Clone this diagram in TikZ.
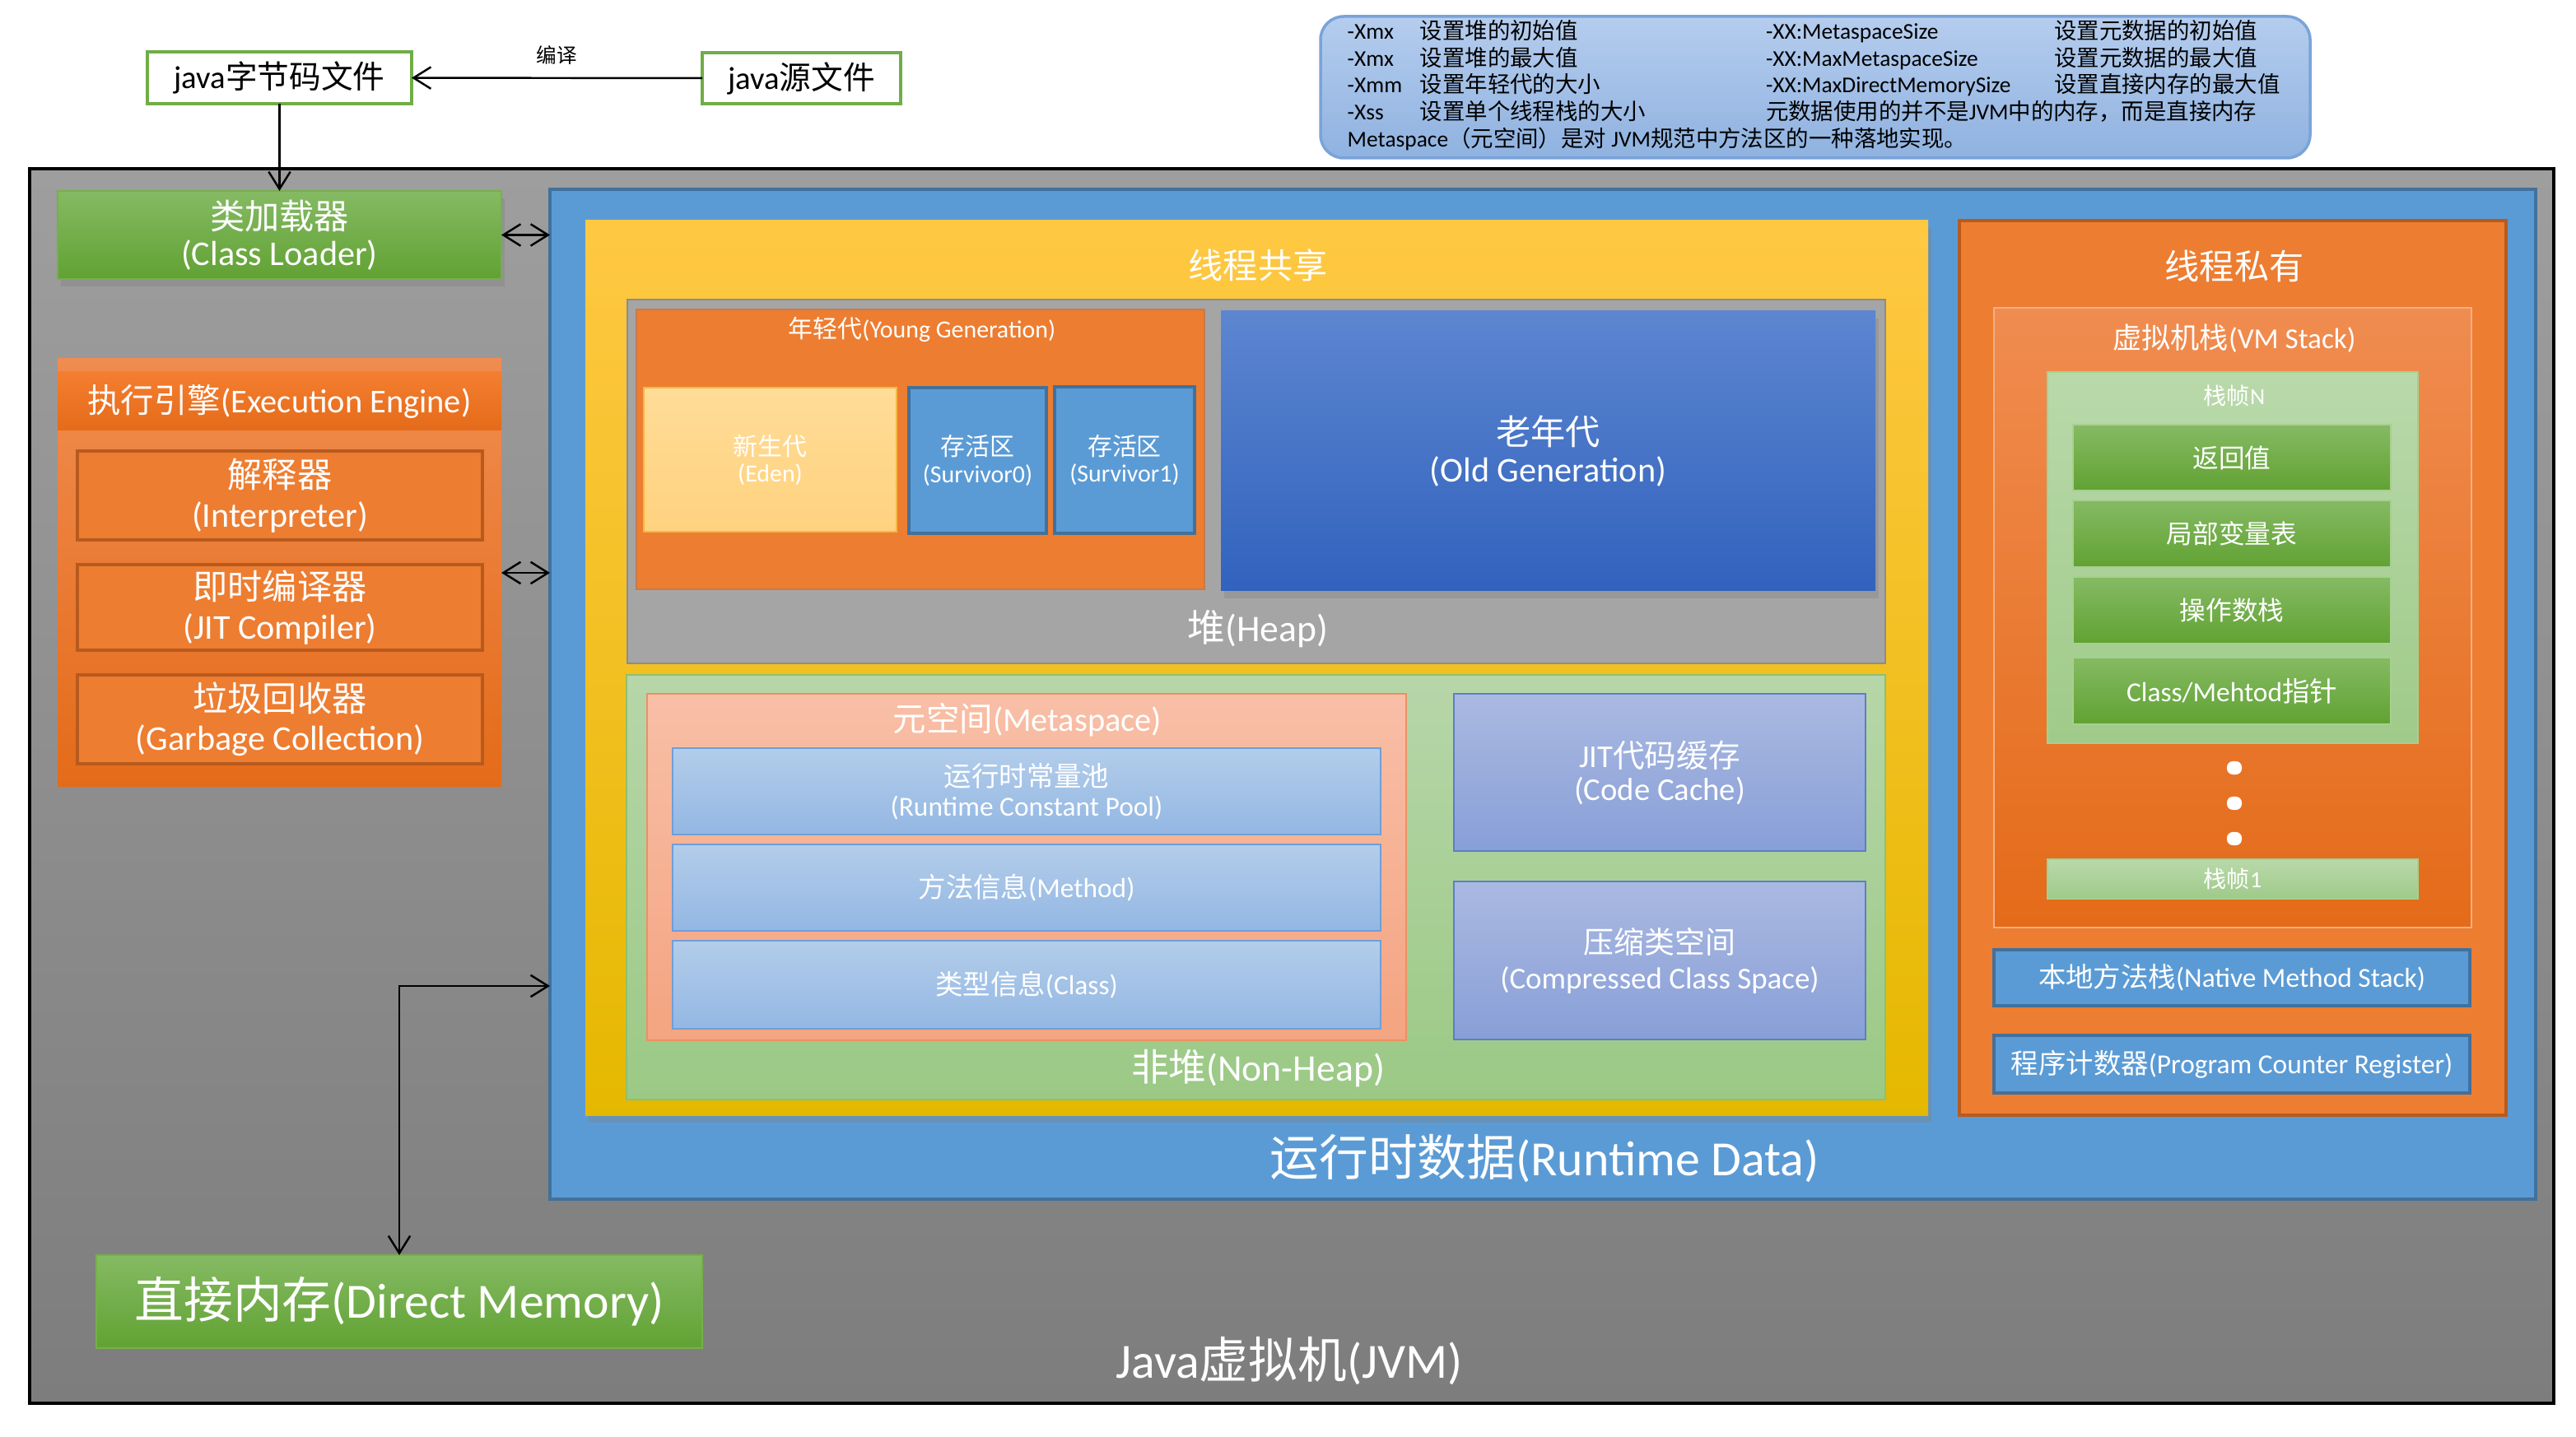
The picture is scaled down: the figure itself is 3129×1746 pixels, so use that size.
\documentclass[tikz,border=0pt]{standalone}
\usepackage{fontspec}
\setmainfont{Carlito}
\newfontfamily\latinfont{Carlito}
\newfontfamily\cjkfont{Noto Sans CJK SC}
% Chinese characters switch to the CJK font by themselves
\XeTeXinterchartokenstate=1
\newXeTeXintercharclass\cjkclass
\newcount\cjkcode
\def\setcjkrange#1#2{\cjkcode=#1
  \loop\XeTeXcharclass\cjkcode=\cjkclass
  \advance\cjkcode by 1
  \ifnum\cjkcode<#2\repeat}
\setcjkrange{"3000}{"3040}
\setcjkrange{"4E00}{"A000}
\setcjkrange{"FF00}{"FF60}
\XeTeXinterchartoks 0 \cjkclass = {\cjkfont}
\XeTeXinterchartoks 4095 \cjkclass = {\cjkfont}
\XeTeXinterchartoks \cjkclass 0 = {\latinfont}
\XeTeXinterchartoks \cjkclass 4095 = {\latinfont}

\usetikzlibrary{fit}
\usetikzlibrary{shadows}
\usetikzlibrary{arrows.meta}
\definecolor{jvmtop}{HTML}{9E9E9E}
\definecolor{jvmbot}{HTML}{7D7D7D}
\definecolor{filegreen}{HTML}{70AD47}
\definecolor{greentop}{HTML}{85BA63}
\definecolor{greenbot}{HTML}{61A233}
\definecolor{greenline}{HTML}{75B04A}
\definecolor{darkorange}{HTML}{B85A1E}
\definecolor{orangetop}{HTML}{F08C50}
\definecolor{orangemid}{HTML}{F47E30}
\definecolor{orangebot}{HTML}{E46B19}
\definecolor{plainorange}{HTML}{ED7D31}
\definecolor{rtblue}{HTML}{5B9BD5}
\definecolor{rtline}{HTML}{41719C}
\definecolor{yellowtop}{HTML}{FFC843}
\definecolor{yellowbot}{HTML}{E5B800}
\definecolor{heapgray}{HTML}{A5A5A5}
\definecolor{heapline}{HTML}{8C8C8C}
\definecolor{edentop}{HTML}{FFDC98}
\definecolor{edenbot}{HTML}{FFD27E}
\definecolor{edenline}{HTML}{F5B843}
\definecolor{oldtop}{HTML}{5D86D0}
\definecolor{oldbot}{HTML}{3162BD}
\definecolor{nhtop}{HTML}{B7D6A9}
\definecolor{nhbot}{HTML}{9BC985}
\definecolor{nhline}{HTML}{8FC070}
\definecolor{metatop}{HTML}{F8BFA7}
\definecolor{metabot}{HTML}{F4A481}
\definecolor{metaline}{HTML}{EF8F62}
\definecolor{pooltop}{HTML}{B3CDEA}
\definecolor{poolbot}{HTML}{93B7E3}
\definecolor{poolline}{HTML}{6F9FD8}
\definecolor{jittop}{HTML}{AAB9E1}
\definecolor{jitbot}{HTML}{889FD7}
\definecolor{jitline}{HTML}{5D7FC5}
\definecolor{frametop}{HTML}{B9D9AA}
\definecolor{framebot}{HTML}{9FCA89}
\definecolor{frameline}{HTML}{A6D08F}
\definecolor{infotop}{HTML}{B5CDEE}
\definecolor{infobot}{HTML}{8FB2E0}
\definecolor{infoline}{HTML}{7AA3D8}
\tikzset {
  % every coloured region
  area/.style={rectangle, inner sep=0pt, outer sep=0pt},
  % font size and line spacing
  fs/.style 2 args={font=\fontsize{#1}{#2}\selectfont},
  % white captions set on a region
  txt/.style={inner sep=0pt, align=center, text=white},
  % the two files above the JVM
  file/.style={area, draw=filegreen, line width=1.2pt, fill=white},
  greenbox/.style={area, draw=greenline, top color=greentop, bottom color=greenbot},
  orangebox/.style={area, top color=orangetop, middle color=orangemid, bottom color=orangebot},
  engine/.style={area, draw=darkorange, line width=1pt, fill=plainorange},
  bluebox/.style={area, draw=rtline, line width=1pt, fill=rtblue},
  poolbox/.style={area, draw=poolline, top color=pooltop, bottom color=poolbot},
  jitbox/.style={area, draw=jitline, top color=jittop, bottom color=jitbot},
  framebox/.style={area, draw=frameline, top color=frametop, bottom color=framebot},
  lifted/.style={drop shadow={shadow xshift=1pt, shadow yshift=-2.5pt, opacity=0.35}},
  stackdot/.style={rectangle, fill=white, rounded corners=2pt, minimum width=0.18cm, minimum height=0.16cm, inner sep=0pt},
  link/.style={black, line width=0.7pt},
}

\begin{document}
\begin{tikzpicture}[x=0.01cm, y=-0.01cm, >={Straight Barb[length=6pt, width=7.5pt]}]
  \fill[white] (0,0) rectangle (3129,1746);
  \useasboundingbox (0,0) rectangle (3129,1746);

  % source and class file
  \node[file, fit={(179,63) (500,126)}] (bytecode) {};
  \node[txt, text=black, fs={11pt}{13pt}] (bytecodetext) at (bytecode) {java字节码文件};
  \node[file, fit={(853,64) (1094,126)}] (source) {};
  \node[txt, text=black, fs={11pt}{13pt}] (sourcetext) at (source) {java源文件};
  \draw[link, ->] (source) -- node[above=1pt, fs={7pt}{8pt}] (compile) {编译} (bytecode);

  % JVM options
  \node[area, fit={(1604,20) (2806,192)}, rounded corners=8pt, draw=infoline, line width=1pt, top color=infotop, bottom color=infobot] (notes) {};
  \node[inner sep=0pt, anchor=west, text=black, fs={7.8pt}{8.9pt}] (options) at (1636,106) {%
    \begin{tabular}{@{}p{0.88cm}@{}p{4.2cm}@{}p{3.5cm}@{}l@{}}
      -Xmx & 设置堆的初始值 & -XX:MetaspaceSize & 设置元数据的初始值\\
      -Xmx & 设置堆的最大值 & -XX:MaxMetaspaceSize & 设置元数据的最大值\\
      -Xmm & 设置年轻代的大小 & -XX:MaxDirectMemorySize & 设置直接内存的最大值\\
      -Xss & 设置单个线程栈的大小 & \multicolumn{2}{@{}l@{}}{元数据使用的并不是JVM中的内存，而是直接内存}\\
      \multicolumn{4}{@{}l@{}}{Metaspace（元空间）是对 JVM规范中方法区的一种落地实现。}
    \end{tabular}};

  % the virtual machine
  \node[area, fit={(36,205) (3102,1705)}, draw=black, line width=1pt, top color=jvmtop, bottom color=jvmbot] (jvm) {};
  \node[txt, fs={17pt}{20pt}] (jvmname) at (1566,1654) {Java虚拟机(JVM)};

  \node[greenbox, lifted, fit={(70,232) (609,339)}] (loader) {};
  \node[txt, fs={12pt}{12.5pt}] (loadertext) at (loader) {类加载器\\(Class Loader)};
  \draw[link, ->] (bytecode) -- (loader);

  % execution engine
  \node[orangebox, fit={(70,436) (609,956)}] (engine) {};
  \node[area, fit={(70,452) (609,523)}, top color=orangemid, bottom color=orangebot] (enginebar) {};
  \node[txt, fs={11.5pt}{13pt}] (enginename) at (enginebar) {执行引擎(Execution Engine)};
  \node[engine, fit={(94,548) (586,656)}] (interp) {};
  \node[txt, fs={12pt}{13.5pt}] (interptext) at (interp) {解释器\\(Interpreter)};
  \node[engine, fit={(94,686) (586,790)}] (jit) {};
  \node[txt, fs={12pt}{13.5pt}] (jittext) at (jit) {即时编译器\\(JIT Compiler)};
  \node[engine, fit={(94,820) (586,928)}] (gc) {};
  \node[txt, fs={12pt}{13.5pt}] (gctext) at (gc) {垃圾回收器\\(Garbage Collection)};

  % runtime data
  \node[bluebox, fit={(668,230) (3080,1457)}] (rtdata) {};
  \node[txt, fs={17pt}{20pt}] (rtname) at (1876,1408) {运行时数据(Runtime Data)};
  \draw[link, <->] (loader.east) -- (loader.east -| rtdata.west);
  \draw[link, <->] (engine.east) -- (engine.east -| rtdata.west);

  % shared by all threads
  \node[area, lifted, fit={(711,268) (2342,1355)}, top color=yellowtop, bottom color=yellowbot] (shared) {};
  \node[txt, fs={12pt}{14pt}] (sharedname) at (1528,322) {线程共享};

  \node[area, fit={(762,364) (2290,806)}, draw=heapline, fill=heapgray] (heap) {};
  \node[txt, fs={13pt}{15pt}] (heapname) at (1528,764) {堆(Heap)};
  \node[area, fit={(773,376) (1463,716)}, draw=darkorange!80, fill=plainorange] (young) {};
  \node[txt, fs={8.5pt}{10pt}] (youngname) at (1120,400) {年轻代(Young Generation)};
  \node[area, fit={(782,471) (1089,646)}, draw=edenline, top color=edentop, bottom color=edenbot] (eden) {};
  \node[txt, fs={8.5pt}{9.1pt}] (edentext) at (eden) {新生代\\(Eden)};
  \node[bluebox, fit={(1104,471) (1271,648)}] (survivor0) {};
  \node[txt, fs={8.5pt}{9.3pt}] (survivor0text) at (survivor0) {存活区\\(Survivor0)};
  \node[bluebox, fit={(1281,470) (1451,648)}] (survivor1) {};
  \node[txt, fs={8.5pt}{9.3pt}] (survivor1text) at (survivor1) {存活区\\(Survivor1)};
  \node[area, lifted, fit={(1483,378) (2278,718)}, top color=oldtop, bottom color=oldbot] (old) {};
  \node[txt, fs={12pt}{13pt}] (oldtext) at (old) {老年代\\(Old Generation)};

  \node[area, fit={(761,820) (2290,1336)}, draw=nhline, top color=nhtop, bottom color=nhbot] (nonheap) {};
  \node[txt, fs={13pt}{15pt}] (nonheapname) at (1528,1298) {非堆(Non-Heap)};
  \node[area, fit={(786,843) (1708,1264)}, draw=metaline, top color=metatop, bottom color=metabot] (meta) {};
  \node[txt, fs={11.5pt}{13pt}] (metaname) at (1248,875) {元空间(Metaspace)};
  \node[poolbox, fit={(817,909) (1677,1014)}] (constpool) {};
  \node[txt, fs={9.5pt}{10.2pt}] (constpooltext) at (constpool) {运行时常量池\\(Runtime Constant Pool)};
  \node[poolbox, fit={(817,1026) (1677,1131)}] (method) {};
  \node[txt, fs={9.5pt}{10.2pt}] (methodtext) at (method) {方法信息(Method)};
  \node[poolbox, fit={(817,1143) (1677,1250)}] (classinfo) {};
  \node[txt, fs={9.5pt}{10.2pt}] (classinfotext) at (classinfo) {类型信息(Class)};
  \node[jitbox, fit={(1766,843) (2266,1034)}] (codecache) {};
  \node[txt, fs={11pt}{11.4pt}] (codecachetext) at (codecache) {JIT代码缓存\\(Code Cache)};
  \node[jitbox, fit={(1766,1071) (2266,1263)}] (ccs) {};
  \node[txt, fs={10.5pt}{12.2pt}] (ccstext) at (ccs) {压缩类空间\\(Compressed Class Space)};

  % private to each thread
  \node[area, fit={(2380,268) (3044,1355)}, draw=darkorange, line width=1pt, fill=plainorange] (private) {};
  \node[txt, fs={12pt}{14pt}] (privatename) at (2714,323) {线程私有};
  \node[orangebox, fit={(2422,374) (3002,1127)}, draw=orangetop!70!white] (vmstack) {};
  \node[txt, fs={10pt}{12pt}] (vmstackname) at (2714,411) {虚拟机栈(VM Stack)};
  \node[framebox, fit={(2487,452) (2937,903)}] (frameN) {};
  \node[txt, fs={8pt}{10pt}] (frameNname) at (2714,481) {栈帧N};
  \node[greenbox, draw=frameline, fit={(2518,516) (2904,596)}] (retval) {};
  \node[txt, fs={9pt}{10pt}] (retvaltext) at (retval) {返回值};
  \node[greenbox, draw=frameline, fit={(2518,608) (2904,689)}] (locals) {};
  \node[txt, fs={9pt}{10pt}] (localstext) at (locals) {局部变量表};
  \node[greenbox, draw=frameline, fit={(2518,701) (2904,782)}] (operands) {};
  \node[txt, fs={9pt}{10pt}] (operandstext) at (operands) {操作数栈};
  \node[greenbox, draw=frameline, fit={(2518,799) (2904,880)}] (pointer) {};
  \node[txt, fs={9.5pt}{10pt}] (pointertext) at (pointer) {Class/Mehtod指针};
  \foreach \y in {933,976,1019}
    \node[stackdot] (dot\y) at (2714,\y) {};
  \node[framebox, fit={(2487,1044) (2937,1092)}] (frame1) {};
  \node[txt, fs={8pt}{10pt}] (frame1text) at (frame1) {栈帧1};
  \node[bluebox, fit={(2422,1154) (3000,1222)}] (native) {};
  \node[txt, fs={9.5pt}{11pt}] (nativetext) at (native) {本地方法栈(Native Method Stack)};
  \node[bluebox, fit={(2422,1258) (3000,1328)}] (pc) {};
  \node[txt, fs={9.5pt}{11pt}] (pctext) at (pc) {程序计数器(Program Counter Register)};

  % direct memory
  \node[greenbox, fit={(117,1525) (853,1638)}] (direct) {};
  \node[txt, fs={17pt}{20pt}] (directtext) at (direct) {直接内存(Direct Memory)};
  \coordinate (heapentry) at (668,1198);
  \draw[link, <->] (direct) |- (heapentry);
\end{tikzpicture}
\end{document}
